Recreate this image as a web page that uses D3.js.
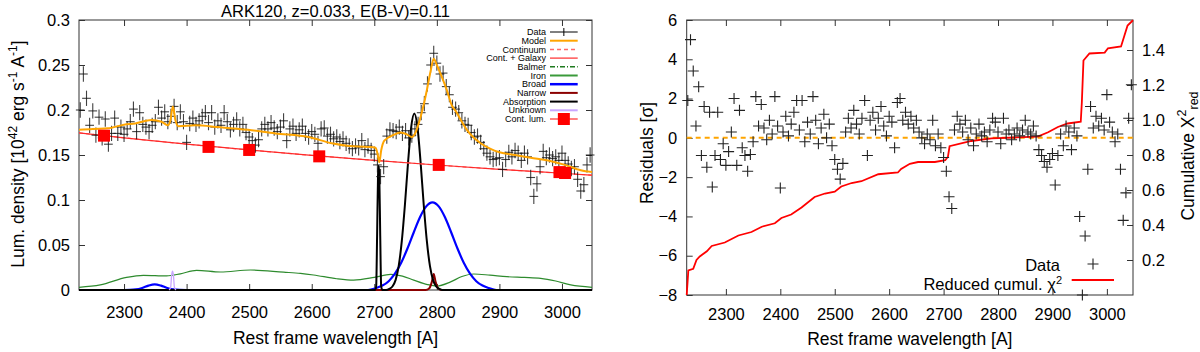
<!DOCTYPE html>
<html>
<head>
<meta charset="utf-8">
<style>
  body { margin: 0; background: #fff; }
  text { font-family: "Liberation Sans", Arial, sans-serif; fill: #000; }
</style>
</head>
<body>
<svg width="1200" height="352"></svg>
<script src="https://d3js.org/d3.v7.min.js"></script>
<script>

// ---- data ----
var wavelengths = [
  2230,2235,2240,2245,2250,2255,2260,2265,2270,2275,
  2280,2285,2290,2295,2300,2305,2310,2315,2320,2325,
  2330,2335,2340,2345,2350,2355,2360,2365,2370,2375,
  2380,2385,2390,2395,2400,2405,2410,2415,2420,2425,
  2430,2435,2440,2445,2450,2455,2460,2465,2470,2475,
  2480,2485,2490,2495,2500,2505,2510,2515,2520,2525,
  2530,2535,2540,2545,2550,2555,2560,2565,2570,2575,
  2580,2585,2590,2595,2600,2605,2610,2615,2620,2625,
  2630,2635,2640,2645,2650,2655,2660,2665,2670,2675,
  2680,2685,2690,2695,2700,2705,2710,2715,2720,2725,
  2730,2735,2740,2745,2750,2755,2760,2765,2770,2775,
  2780,2785,2790,2795,2800,2805,2810,2815,2820,2825,
  2830,2835,2840,2845,2850,2855,2860,2865,2870,2875,
  2880,2885,2890,2895,2900,2905,2910,2915,2920,2925,
  2930,2935,2940,2945,2950,2955,2960,2965,2970,2975,
  2980,2985,2990,2995,3000,3005,3010,3015,3020,3025,
  3030,3035,3040,3045];

var flux = [
  0.200,0.240,0.213,0.183,0.199,0.172,0.192,0.169,0.190,0.162,
  0.174,0.191,0.174,0.181,0.173,0.179,0.187,0.201,0.176,0.197,
  0.184,0.181,0.176,0.183,0.187,0.203,0.191,0.198,0.187,0.193,
  0.204,0.186,0.198,0.187,0.164,0.185,0.191,0.184,0.188,0.193,
  0.197,0.186,0.197,0.181,0.188,0.183,0.197,0.187,0.178,0.184,
  0.189,0.179,0.184,0.175,0.170,0.166,0.161,0.167,0.179,0.184,
  0.179,0.186,0.180,0.176,0.181,0.188,0.166,0.179,0.182,0.174,
  0.178,0.182,0.174,0.170,0.176,0.173,0.163,0.179,0.180,0.171,
  0.173,0.168,0.170,0.165,0.168,0.163,0.160,0.157,0.160,0.158,
  0.166,0.156,0.160,0.155,0.151,0.139,0.126,0.137,0.171,0.178,
  0.177,0.176,0.181,0.174,0.177,0.169,0.172,0.179,0.184,0.197,
  0.207,0.229,0.250,0.263,0.252,0.240,0.241,0.226,0.217,0.203,
  0.201,0.197,0.188,0.184,0.183,0.175,0.170,0.171,0.164,0.157,
  0.152,0.148,0.145,0.146,0.147,0.134,0.145,0.153,0.148,0.155,
  0.152,0.144,0.152,0.148,0.125,0.104,0.118,0.137,0.154,0.147,
  0.150,0.146,0.148,0.144,0.152,0.144,0.140,0.135,0.137,0.123,
  0.110,0.117,0.139,0.150];

var residuals = [
  1.9,5.0,3.4,0.6,2.6,-0.9,1.6,-1.5,1.3,-2.5,
  -0.9,1.3,-1.1,-0.3,-1.4,-0.7,0.3,2.0,-1.4,1.4,
  -0.5,-0.9,-1.7,-0.85,-0.2,2.1,0.6,1.7,0.5,-0.1,
  0.9,0.2,2.1,0.6,-2.55,0.3,1.1,0.1,0.7,1.3,
  1.9,0.4,1.9,-0.2,0.8,0.2,2.1,0.9,-0.3,0.5,
  1.2,0.0,0.7,-0.4,-1.1,-1.6,-2.1,-1.3,0.3,1.0,
  0.5,1.4,0.7,0.2,1.0,1.9,-0.9,0.9,1.3,0.4,
  1.0,1.6,0.6,0.1,1.1,0.8,-0.5,1.8,2.0,0.9,
  1.3,0.7,1.1,0.5,0.9,0.3,0.0,-0.3,0.2,-0.1,
  0.9,-0.4,0.2,-0.5,-1.0,-1.7,-3.0,-3.6,0.4,1.1,
  0.7,0.3,0.9,-0.1,0.5,-0.4,0.2,0.7,0.1,0.3,
  -0.2,0.4,1.0,0.8,0.3,-0.3,1.0,0.2,0.4,-0.1,
  0.2,0.5,0.1,0.4,0.9,0.3,0.2,0.6,0.1,-0.6,
  -0.9,-1.2,-1.5,-1.1,-0.8,-2.4,-0.9,0.2,-0.4,0.6,
  0.3,-0.6,0.5,0.1,-4.0,-8.0,-5.0,-1.6,1.6,0.5,
  1.1,0.6,1.0,0.4,2.2,0.8,0.3,-0.2,0.2,-1.6,
  -4.2,-2.8,1.0,2.7];

var fluxErr = 0.0085;    // half length of the vertical error bar
var waveErr = 7;         // half width of the horizontal bar [A]

var modelCurve = [
  [2228,0.178],[2250,0.179],[2274,0.1796],[2300,0.1837],[2318,0.185],[2344,0.189],
  [2360,0.187],[2370,0.183],[2374,0.188],[2378,0.204],[2382,0.189],[2387,0.182],
  [2414,0.183],[2451,0.181],[2498,0.178],[2542,0.174],[2595,0.170],[2632,0.163],
  [2660,0.160],[2690,0.159],[2702,0.158],[2705,0.152],[2708,0.142],[2711,0.155],
  [2716,0.166],[2730,0.172],[2742,0.175],[2752,0.173],[2760,0.170],[2766,0.175],
  [2771,0.185],[2778,0.203],[2784,0.222],[2790,0.243],[2795,0.257],[2800,0.250],
  [2806,0.240],[2816,0.222],[2824,0.205],[2830,0.199],[2840,0.187],[2848,0.178],
  [2858,0.170],[2870,0.163],[2885,0.157],[2900,0.153],[2925,0.150],[2950,0.147],
  [2978,0.144],[3005,0.139],[3030,0.133],[3048,0.131]];

var contCurve = [
  [2228,0.1746],[2300,0.1691],[2400,0.1621],[2500,0.1556],[2600,0.1496],
  [2700,0.1441],[2800,0.1389],[2900,0.1341],[3000,0.1297],[3048,0.1276]];

var ironCurve = [
  [2228,0.003],[2262,0.0056],[2304,0.014],[2331,0.0163],[2368,0.0156],[2390,0.018],
  [2416,0.0219],[2454,0.020],[2502,0.0222],[2555,0.0198],[2582,0.0185],[2603,0.0167],
  [2640,0.0125],[2667,0.011],[2700,0.014],[2726,0.0174],[2745,0.0155],[2763,0.011],
  [2785,0.006],[2800,0.0044],[2822,0.009],[2840,0.015],[2859,0.0178],[2885,0.0165],
  [2912,0.0148],[2940,0.014],[2966,0.013],[2990,0.010],[3014,0.0056],[3048,0.003]];

var broadCurve = [
  [2228,0],[2300,0],[2309,0.0001],[2319,0.0006],[2329,0.0023],[2339,0.0049],[2349,0.0063],
  [2359,0.0049],[2369,0.0023],[2379,0.0006],[2389,0.0001],[2400,0],[2690,0],
  [2703,0.0022],[2713,0.0049],[2723,0.0098],[2733,0.0181],[2743,0.0302],[2753,0.0461],
  [2763,0.0639],[2773,0.0808],[2783,0.0929],[2793,0.0974],[2803,0.0929],[2813,0.0808],
  [2823,0.0639],[2833,0.0461],[2843,0.0302],[2853,0.0181],[2863,0.0098],[2873,0.0049],
  [2883,0.0022],[2895,0],[3048,0]];

var narrowCurve = [
  [2228,0],[2782,0],[2788,0.002],[2792,0.009],[2795,0.0178],[2798,0.009],[2802,0.002],
  [2808,0],[3048,0]];

var absorptionCurve = [
  [2228,0],[2701,0],[2703,0.004],[2704.5,0.06],[2706,0.128],[2707,0.138],[2708,0.128],
  [2709.5,0.06],[2711,0.004],[2713,0],[2719,0],[2724,0.0012],[2729,0.0039],[2734,0.011],
  [2739,0.0265],[2744,0.0545],[2749,0.095],[2754,0.142],[2759,0.181],[2764,0.196],
  [2769,0.181],[2774,0.142],[2779,0.095],[2784,0.0545],[2789,0.0265],[2794,0.011],
  [2799,0.0039],[2804,0.0012],[2809,0],[3048,0]];

var unknownCurve = [
  [2372,0],[2374.5,0.003],[2376,0.016],[2377.5,0.021],[2379,0.016],[2380.5,0.003],[2383,0]];

var contLum = [
  [2268,0.1715],[2435,0.159],[2500,0.1556],[2612,0.1485],[2803,0.139],[2996,0.131],[3005,0.130]];

var chiCurve = [
  [2228,0],[2231,0.14],[2240,0.15],[2246,0.20],[2252,0.22],[2265,0.25],[2274,0.28],
  [2298,0.30],[2323,0.34],[2347,0.36],[2366,0.39],[2390,0.41],[2402,0.44],[2420,0.46],
  [2439,0.50],[2463,0.56],[2482,0.58],[2500,0.59],[2512,0.62],[2531,0.64],[2549,0.65],
  [2580,0.69],[2616,0.70],[2622,0.72],[2638,0.75],[2653,0.76],[2684,0.76],[2703,0.77],
  [2708,0.79],[2711,0.85],[2751,0.88],[2788,0.895],[2830,0.90],[2873,0.905],[2892,0.93],
  [2910,0.96],[2928,0.98],[2952,0.99],[2954,1.10],[2957,1.34],[2968,1.38],[2996,1.385],
  [3002,1.41],[3026,1.42],[3032,1.48],[3038,1.54],[3048,1.57]];

var xTicks = [2300, 2400, 2500, 2600, 2700, 2800, 2900, 3000];
var fluxTicks = [0, 0.05, 0.1, 0.15, 0.2, 0.25, 0.3];
var residTicks = [-8, -6, -4, -2, 0, 2, 4, 6];
var chiTicks = [0.2, 0.4, 0.6, 0.8, 1.0, 1.2, 1.4];

var legendNames = ["Data", "Model", "Continuum", "Cont. + Galaxy", "Balmer", "Iron",
  "Broad", "Narrow", "Absorption", "Unknown", "Cont. lum."];

// ---- layout ----
var svg = d3.select("svg");
var frameColor = "#333";

var L = { left: 79, right: 592, top: 20, bottom: 290 };
var R = { left: 686.7, right: 1133, top: 20, bottom: 295 };

var xL = d3.scaleLinear().domain([2228, 3048]).range([L.left, L.right]);
var yL = d3.scaleLinear().domain([0, 0.3]).range([L.bottom, L.top]);
var xR = d3.scaleLinear().domain([2228, 3048]).range([R.left, R.right]);
var yR = d3.scaleLinear().domain([-8, 6]).range([R.bottom, R.top]);
var y2R = d3.scaleLinear().domain([0, 275 / 175]).range([R.bottom, R.top]);

function styleAxis(g, labels) {
  g.select(".domain").remove();
  g.selectAll(".tick line").attr("stroke", frameColor);
  g.selectAll(".tick text").attr("font-size", labels ? "16.5px" : 0).attr("fill", "#000");
}

function axes(box, x, y, yTicks, yFmt, yPad, xPad, mirrorY) {
  svg.append("g").attr("transform", "translate(0," + box.bottom + ")")
    .call(d3.axisBottom(x).tickValues(xTicks).tickSizeInner(-6).tickSizeOuter(0)
      .tickPadding(xPad).tickFormat(d3.format("d")))
    .call(styleAxis, true);
  svg.append("g").attr("transform", "translate(0," + box.top + ")")
    .call(d3.axisTop(x).tickValues(xTicks).tickSizeInner(-6).tickSizeOuter(0).tickFormat(""))
    .call(styleAxis, false);
  svg.append("g").attr("transform", "translate(" + box.left + ",0)")
    .call(d3.axisLeft(y).tickValues(yTicks).tickSizeInner(-6).tickSizeOuter(0)
      .tickPadding(yPad).tickFormat(yFmt))
    .call(styleAxis, true);
  if (mirrorY) {
    svg.append("g").attr("transform", "translate(" + box.right + ",0)")
      .call(d3.axisRight(y).tickValues(yTicks).tickSizeInner(-6).tickSizeOuter(0).tickFormat(""))
      .call(styleAxis, false);
  }
  svg.append("rect").attr("x", box.left).attr("y", box.top)
    .attr("width", box.right - box.left).attr("height", box.bottom - box.top)
    .attr("fill", "none").attr("stroke", frameColor).attr("stroke-width", 1);
}

axes(L, xL, yL, fluxTicks, function (d) { return String(d); }, 9, 16, true);
axes(R, xR, yR, residTicks, d3.format("d"), 9.5, 13, false);

svg.append("g").attr("transform", "translate(" + R.right + ",0)")
  .call(d3.axisRight(y2R).tickValues(chiTicks).tickSizeInner(-6).tickSizeOuter(0)
    .tickPadding(9).tickFormat(d3.format(".1f")))
  .call(styleAxis, true);

// ---- left panel ----
var lineL = d3.line().x(function (d) { return xL(d[0]); }).y(function (d) { return yL(d[1]); })
  .curve(d3.curveMonotoneX);

function curve(data, color, width, dash) {
  svg.append("path").datum(data).attr("d", lineL).attr("fill", "none")
    .attr("stroke", color).attr("stroke-width", width)
    .attr("stroke-dasharray", dash || null);
}

curve(ironCurve, "#2e8b2e", 1.2);
curve(broadCurve, "#0000ff", 2.2);
curve(narrowCurve, "#8b0000", 2);
curve(absorptionCurve, "#000", 2);
curve(unknownCurve, "#c9a6ff", 1.3);
curve(contCurve, "#ff6a6a", 1.2, "4,3");
curve(contCurve, "#ff2a2a", 1.2);

var pts = wavelengths.map(function (w, i) { return { w: w, f: flux[i], r: residuals[i] }; });

var dataG = svg.append("g").attr("stroke", "#111").attr("stroke-width", 1.1).attr("stroke-opacity", 0.8);
dataG.selectAll(".ev").data(pts).join("line")
  .attr("x1", function (d) { return xL(d.w); }).attr("x2", function (d) { return xL(d.w); })
  .attr("y1", function (d) { return yL(d.f - fluxErr); })
  .attr("y2", function (d) { return yL(d.f + fluxErr); });
dataG.selectAll(".eh").data(pts).join("line")
  .attr("x1", function (d) { return xL(d.w - waveErr); })
  .attr("x2", function (d) { return xL(d.w + waveErr); })
  .attr("y1", function (d) { return yL(d.f); }).attr("y2", function (d) { return yL(d.f); });

curve(modelCurve, "#ffa500", 2);

svg.selectAll(".sq").data(contLum).join("rect")
  .attr("x", function (d) { return xL(d[0]) - 6; }).attr("y", function (d) { return yL(d[1]) - 6; })
  .attr("width", 12).attr("height", 12).attr("fill", "#ff0000");

svg.append("text").attr("x", (L.left + L.right) / 2).attr("y", 16.5)
  .attr("text-anchor", "middle").attr("font-size", "16.5px")
  .text("ARK120, z=0.033, E(B-V)=0.11");

svg.append("text").attr("x", (L.left + L.right) / 2).attr("y", 344)
  .attr("text-anchor", "middle").attr("font-size", "17.5px").text("Rest frame wavelength [A]");

var yLab = svg.append("text").attr("transform", "translate(24,154) rotate(-90)")
  .attr("text-anchor", "middle").attr("font-size", "17.5px");
yLab.append("tspan").text("Lum. density [10");
yLab.append("tspan").attr("dy", -7).attr("font-size", "12px").text("42");
yLab.append("tspan").attr("dy", 7).text(" erg s");
yLab.append("tspan").attr("dy", -7).attr("font-size", "12px").text("-1");
yLab.append("tspan").attr("dy", 7).text(" A");
yLab.append("tspan").attr("dy", -7).attr("font-size", "12px").text("-1");
yLab.append("tspan").attr("dy", 7).text("]");

// legend (left)
var legX = 546, legY0 = 32, legDy = 8.7, s0 = 550, s1 = 577.7;
var legStyles = [
  ["#000", 1], ["#ffa500", 2], ["#ff6a6a", 1.5, "4,3"], ["#ff2a2a", 1.2],
  ["#1f7a1f", 1.5, "5,2,1,2"], ["#3a9a3a", 2], ["#0000ff", 2.5], ["#8b0000", 2],
  ["#000", 2], ["#c9a6ff", 2], ["#ff2a2a", 1.2]];
var legG = svg.append("g");
legendNames.forEach(function (name, i) {
  var yy = legY0 + i * legDy;
  legG.append("text").attr("x", legX).attr("y", yy).attr("dy", "0.35em")
    .attr("text-anchor", "end").attr("font-size", "9px").text(name);
  var st = legStyles[i];
  legG.append("line").attr("x1", s0).attr("x2", s1).attr("y1", yy).attr("y2", yy)
    .attr("stroke", st[0]).attr("stroke-width", st[1]).attr("stroke-dasharray", st[2] || null);
  if (i === 0) {
    legG.append("line").attr("x1", (s0 + s1) / 2).attr("x2", (s0 + s1) / 2)
      .attr("y1", yy - 4).attr("y2", yy + 4).attr("stroke", "#000");
  }
  if (i === legendNames.length - 1) {
    legG.append("rect").attr("x", (s0 + s1) / 2 - 6).attr("y", yy - 6)
      .attr("width", 12).attr("height", 12).attr("fill", "#ff0000");
  }
});

// ---- right panel ----
svg.append("line").attr("x1", R.left).attr("x2", R.right)
  .attr("y1", yR(0)).attr("y2", yR(0))
  .attr("stroke", "#ffa500").attr("stroke-width", 2).attr("stroke-dasharray", "5,4");

var lineChi = d3.line().x(function (d) { return xR(d[0]); }).y(function (d) { return y2R(d[1]); });
svg.append("path").datum(chiCurve).attr("d", lineChi).attr("fill", "none")
  .attr("stroke", "#ff0000").attr("stroke-width", 1.8);

function plus(g, cx, cy, a) {
  g.append("path").attr("d", "M" + (cx - a) + "," + cy + "H" + (cx + a) + "M" + cx + "," + (cy - a) + "V" + (cy + a));
}
var resG = svg.append("g").attr("stroke", "#222").attr("stroke-width", 1.1).attr("fill", "none");
pts.forEach(function (d) { plus(resG, xR(d.w), yR(d.r), 5.5); });

svg.append("text").attr("x", (R.left + R.right) / 2).attr("y", 345)
  .attr("text-anchor", "middle").attr("font-size", "17.5px").text("Rest frame wavelength [A]");

svg.append("text").attr("transform", "translate(653,153) rotate(-90)")
  .attr("text-anchor", "middle").attr("font-size", "17.5px").text("Residuals [σ]");

var y2Lab = svg.append("text").attr("transform", "translate(1194,156) rotate(-90)")
  .attr("text-anchor", "middle").attr("font-size", "17.5px");
y2Lab.append("tspan").text("Cumulative X");
y2Lab.append("tspan").attr("dy", -8).attr("font-size", "12.5px").text("2");
y2Lab.append("tspan").attr("dy", 12).attr("font-size", "12.5px").text("red");

// legend (right)
svg.append("text").attr("x", 1060).attr("y", 265).attr("dy", "0.35em")
  .attr("text-anchor", "end").attr("font-size", "16.5px").text("Data");
plus(resG, 1093, 264, 5.5);
var chiLeg = svg.append("text").attr("x", 1062).attr("y", 284).attr("dy", "0.35em")
  .attr("text-anchor", "end").attr("font-size", "16.5px");
chiLeg.append("tspan").text("Reduced cumul. χ");
chiLeg.append("tspan").attr("dy", -6).attr("font-size", "11px").text("2");
svg.append("line").attr("x1", 1071.7).attr("x2", 1114).attr("y1", 280).attr("y2", 280)
  .attr("stroke", "#ff0000").attr("stroke-width", 1.8);

</script>
</body>
</html>
